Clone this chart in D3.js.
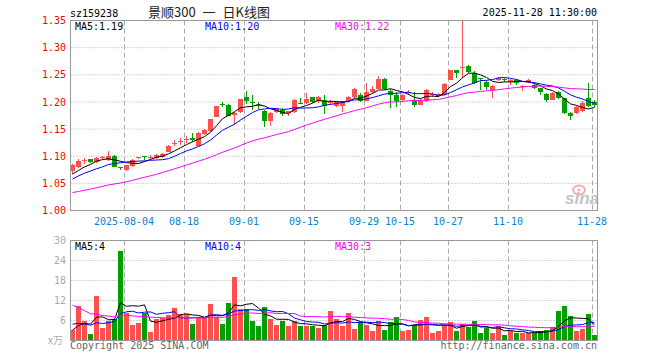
<!DOCTYPE html>
<html><head><meta charset="utf-8">
<script src="https://cdn.jsdelivr.net/npm/d3@7/dist/d3.min.js"></script>
<style>body{margin:0;background:#fff}svg{display:block}</style>
</head><body><svg id="c" width="660" height="360"></svg>
<script>
const dates = ["2025-07-22","2025-07-23","2025-07-24","2025-07-25","2025-07-28","2025-07-29","2025-07-30","2025-07-31",
"2025-08-01","2025-08-04","2025-08-05","2025-08-06","2025-08-07","2025-08-08","2025-08-11","2025-08-12","2025-08-13","2025-08-14","2025-08-15",
"2025-08-18","2025-08-19","2025-08-20","2025-08-21","2025-08-22","2025-08-25","2025-08-26","2025-08-27","2025-08-28","2025-08-29",
"2025-09-01","2025-09-02","2025-09-03","2025-09-04","2025-09-05","2025-09-08","2025-09-09","2025-09-10","2025-09-11","2025-09-12",
"2025-09-15","2025-09-16","2025-09-17","2025-09-18","2025-09-19","2025-09-22","2025-09-23","2025-09-24","2025-09-25","2025-09-26",
"2025-09-29","2025-09-30","2025-10-09","2025-10-10","2025-10-13","2025-10-14","2025-10-15","2025-10-16","2025-10-17",
"2025-10-20","2025-10-21","2025-10-22","2025-10-23","2025-10-24","2025-10-27","2025-10-28","2025-10-29","2025-10-30","2025-10-31",
"2025-11-03","2025-11-04","2025-11-05","2025-11-06","2025-11-07","2025-11-10","2025-11-11","2025-11-12","2025-11-13","2025-11-14",
"2025-11-17","2025-11-18","2025-11-19","2025-11-20","2025-11-21","2025-11-24","2025-11-25","2025-11-26","2025-11-27","2025-11-28"];
const opens = [1.072,1.081,1.091,1.094,1.089,1.096,1.093,1.101,1.080,1.075,1.082,1.096,1.100,1.096,1.096,1.098,1.108,1.123,1.126,
1.129,1.133,1.118,1.141,1.146,1.173,1.196,1.195,1.176,1.181,1.209,1.200,1.195,1.183,1.165,1.181,1.186,1.180,1.181,1.198,
1.198,1.209,1.202,1.204,1.198,1.193,1.192,1.201,1.209,1.213,1.202,1.219,1.224,1.243,1.221,1.213,1.203,1.216,1.203,
1.195,1.201,1.212,1.211,1.213,1.241,1.258,1.264,1.266,1.254,1.244,1.236,1.222,1.240,1.243,1.236,1.241,1.227,1.236,1.232,
1.225,1.215,1.204,1.219,1.207,1.180,1.180,1.183,1.207,1.200];
const highs = [1.085,1.094,1.097,1.095,1.098,1.100,1.110,1.102,1.081,1.084,1.095,1.099,1.101,1.102,1.104,1.106,1.120,1.130,1.133,
1.138,1.142,1.144,1.150,1.169,1.193,1.200,1.196,1.182,1.206,1.220,1.213,1.199,1.185,1.182,1.188,1.188,1.184,1.205,1.208,
1.216,1.210,1.211,1.212,1.204,1.202,1.202,1.211,1.226,1.216,1.235,1.229,1.247,1.244,1.223,1.219,1.214,1.222,1.219,
1.205,1.224,1.218,1.217,1.234,1.259,1.259,1.350,1.268,1.257,1.245,1.240,1.232,1.246,1.245,1.243,1.243,1.232,1.243,1.233,
1.226,1.217,1.218,1.221,1.208,1.181,1.192,1.201,1.234,1.203];
const lows = [1.067,1.079,1.086,1.087,1.088,1.094,1.092,1.080,1.074,1.073,1.080,1.094,1.093,1.095,1.095,1.096,1.107,1.118,1.121,
1.124,1.127,1.117,1.140,1.145,1.172,1.190,1.174,1.158,1.180,1.196,1.185,1.187,1.153,1.156,1.180,1.174,1.174,1.180,1.196,
1.196,1.198,1.198,1.178,1.194,1.190,1.181,1.200,1.208,1.199,1.201,1.217,1.223,1.222,1.189,1.190,1.202,1.213,1.190,
1.194,1.200,1.210,1.209,1.212,1.240,1.244,1.244,1.254,1.233,1.222,1.222,1.207,1.238,1.236,1.232,1.232,1.221,1.235,1.224,
1.213,1.200,1.203,1.205,1.178,1.166,1.178,1.181,1.190,1.190];
const closes = [1.083,1.092,1.093,1.089,1.097,1.098,1.100,1.081,1.078,1.083,1.093,1.098,1.098,1.099,1.102,1.104,1.119,1.125,1.128,
1.131,1.130,1.143,1.148,1.168,1.192,1.194,1.175,1.180,1.205,1.201,1.198,1.193,1.165,1.180,1.187,1.178,1.183,1.204,1.197,
1.205,1.200,1.210,1.192,1.200,1.200,1.200,1.210,1.224,1.201,1.219,1.224,1.242,1.224,1.213,1.202,1.212,1.219,1.195,
1.203,1.222,1.215,1.214,1.233,1.258,1.253,1.265,1.255,1.235,1.242,1.228,1.230,1.244,1.241,1.240,1.234,1.230,1.241,1.225,
1.219,1.204,1.216,1.208,1.180,1.174,1.190,1.198,1.193,1.195];
const volumes = [3.2,10.4,5.9,2.0,13.4,3.8,6.0,6.4,26.9,8.2,4.7,5.3,8.3,2.6,6.5,6.8,7.6,9.8,8.0,
7.9,5.0,7.0,7.0,11.0,7.2,5.0,11.3,19.0,9.5,9.6,6.0,4.5,10.1,6.6,4.7,5.9,4.4,5.9,4.4,
4.4,4.5,3.8,4.8,8.9,6.5,4.4,8.3,3.5,5.6,4.7,2.9,5.9,3.2,5.6,7.1,2.9,3.2,4.7,
6.2,7.1,2.3,2.9,4.7,5.6,2.9,5.0,4.1,5.9,2.3,3.8,2.2,4.5,1.7,2.9,2.2,2.4,2.2,2.2,
2.9,3.3,4.1,8.8,10.5,7.4,2.9,3.6,8.0,1.7];
// sessions before the visible window, needed for the moving averages
const priorCloses = [1.030,1.028,1.025,1.022,1.020,1.024,1.026,1.021,1.017,1.014,1.012,1.015,1.018,1.016,1.013,
1.017,1.020,1.022,1.025,1.026,1.035,1.042,1.050,1.056,1.062,1.058,1.061,1.065,1.068];
const priorVolumes = [35,31,30.3,17,15,13,12,11,10.5,10,9.5,9,9,9.5,9,8.5,8,8,7.5,6.7,8,7,6.5,6,6,3.5,3,2.8,3];
const priceTicks = [1.00,1.05,1.10,1.15,1.20,1.25,1.30,1.35];
const volTicks = [6,12,18,24,30];
const dateTicks = ["2025-08-04","2025-08-18","2025-09-01","2025-09-15","2025-09-29","2025-10-15","2025-10-27","2025-11-10","2025-11-28"];
const dateTickLabels = ["2025-08-04","08-18","09-01","09-15","09-29","10-15","10-27","11-10","11-28"];
const maPeriods = [5,10,30];
const maColors = ["#000000","#0000ff","#ff00ff"];
const volLegendValues = [4,4,3];

const svg = d3.select("#c");
const L = 70, R = 598;
const x = d3.scaleBand().domain(dates).range([L, R]);
const bw = x.bandwidth();
const yP = d3.scaleLinear().domain([1.00,1.35]).range([210.5,20.5]);
const yV = d3.scaleLinear().domain([0,30]).range([340.5,240.5]);
const mono = "'DejaVu Sans Mono', monospace";
const RED = "#ff5050", GREEN = "#00a000";

function ma(all, n, offset){
  return dates.map((d,i)=>{const e=i+offset; return d3.mean(all.slice(e-n+1,e+1));});
}
const allC = priorCloses.concat(closes), allV = priorVolumes.concat(volumes);
const pMA = maPeriods.map(n=>ma(allC,n,priorCloses.length));
const vMA = maPeriods.map(n=>ma(allV,n,priorVolumes.length));

function grid(y0,y1,ticks,ys){
  const g = svg.append("g");
  g.selectAll(".h").data(ticks).join("line")
   .attr("x1",L+0.5).attr("x2",R-0.5).attr("y1",d=>ys(d)).attr("y2",d=>ys(d))
   .attr("stroke","#aaa").attr("stroke-dasharray","1,2");
  g.selectAll(".v").data(dateTicks).join("line")
   .attr("x1",d=>x(d)+0.5).attr("x2",d=>x(d)+0.5).attr("y1",y0).attr("y2",y1)
   .attr("stroke","#aaa").attr("stroke-dasharray","5,3");
}
grid(20.5,210.5,priceTicks.slice(1,-1),yP);
grid(240.5,340.5,volTicks.slice(0,-1),yV);

const wm = svg.append("g");
wm.append("ellipse").attr("cx",579).attr("cy",190).attr("rx",6).attr("ry",4.5).attr("fill","none").attr("stroke","#f3b0b0").attr("stroke-width",2);
wm.append("circle").attr("cx",579).attr("cy",190).attr("r",1.6).attr("fill","#f3b0b0");
wm.append("text").attr("x",565).attr("y",204).text("sina")
  .attr("font-family","'Liberation Sans', Arial").attr("font-weight","bold").attr("font-style","italic")
  .attr("font-size",17).attr("fill","#c4c4c4");

const cg = svg.append("g").attr("shape-rendering","crispEdges");
dates.forEach((d,i)=>{
  const col = closes[i] >= opens[i] ? RED : GREEN;
  const x0 = x(d);
  cg.append("rect").attr("x",x0+2).attr("width",1)
    .attr("y",yP(highs[i])).attr("height",Math.max(1,yP(lows[i])-yP(highs[i]))).attr("fill",col);
  const top = yP(Math.max(opens[i],closes[i])), bot = yP(Math.min(opens[i],closes[i]));
  cg.append("rect").attr("x",x0).attr("width",bw-1)
    .attr("y",top).attr("height",Math.max(1,bot-top)).attr("fill",col);
});
svg.append("g").attr("shape-rendering","crispEdges").selectAll("rect").data(dates).join("rect")
  .attr("x",d=>x(d)).attr("width",bw-1)
  .attr("y",(d,i)=>yV(volumes[i])).attr("height",(d,i)=>yV(0)-yV(volumes[i]))
  .attr("fill",(d,i)=>closes[i]>=opens[i]?RED:GREEN);

function drawMA(arr, ys){
  arr.forEach((vals,k)=>{
    const line = d3.line().x((v,i)=>x(dates[i])+bw/2-0.5).y(v=>ys(v));
    svg.append("path").attr("d",line(vals)).attr("fill","none").attr("stroke",maColors[k]).attr("stroke-width",1);
  });
}
drawMA(pMA,yP);
drawMA(vMA,yV);

svg.append("rect").attr("x",L+0.5).attr("y",20.5).attr("width",R-L-1).attr("height",190).attr("fill","none").attr("stroke","#999");
svg.append("rect").attr("x",L+0.5).attr("y",240.5).attr("width",R-L-1).attr("height",100).attr("fill","none").attr("stroke","#999");

const ay = svg.append("g").attr("transform",`translate(${L},0)`)
  .call(d3.axisLeft(yP).tickValues(priceTicks).tickFormat(d3.format(".2f")).tickSize(0).tickPadding(4));
ay.select(".domain").remove();
ay.selectAll("text").attr("fill","#ff0000").attr("font-family",mono).attr("font-size",10);
const av = svg.append("g").attr("transform",`translate(${L},0)`)
  .call(d3.axisLeft(yV).tickValues(volTicks).tickSize(0).tickPadding(4));
av.select(".domain").remove();
av.selectAll("text").attr("fill","#aaa").attr("font-family",mono).attr("font-size",10);
const ax = svg.append("g").attr("transform",`translate(${-bw/2},211)`)
  .call(d3.axisBottom(x).tickValues(dateTicks).tickFormat((d)=>dateTickLabels[dateTicks.indexOf(d)]).tickSize(0));
ax.select(".domain").remove();
ax.selectAll("text").attr("y",13.5).attr("dy",null).attr("fill","#0a82d2").attr("font-family",mono).attr("font-size",10);

function txt(s,xx,yy,fill,anchor,size,fam){
  return svg.append("text").attr("x",xx).attr("y",yy).text(s).attr("fill",fill)
    .attr("text-anchor",anchor||"start").attr("font-size",size||10).attr("font-family",fam||mono);
}
txt("sz159238",70,17,"#000");
txt("景顺300 一 日K线图",209,17,"#222","middle",13,"'Noto Sans CJK SC', sans-serif").attr("word-spacing",4);
txt("2025-11-28 11:30:00",597,16,"#000","end");
const f2 = d3.format(".2f");
const legX = [75,205,335];
maPeriods.forEach((n,k)=>{
  txt(`MA${n}:${f2(pMA[k][pMA[k].length-1])}`,legX[k],30,maColors[k]);
  txt(`MA${n}:${volLegendValues[k]}`,legX[k],250,maColors[k]);
});
txt("x万",48,344,"#aaa","start",10,"'Noto Sans CJK SC', sans-serif");
txt("Copyright 2025 SINA.COM",70,349,"#666");
txt("http://finance.sina.com.cn",597,349,"#666","end");
</script></body></html>
